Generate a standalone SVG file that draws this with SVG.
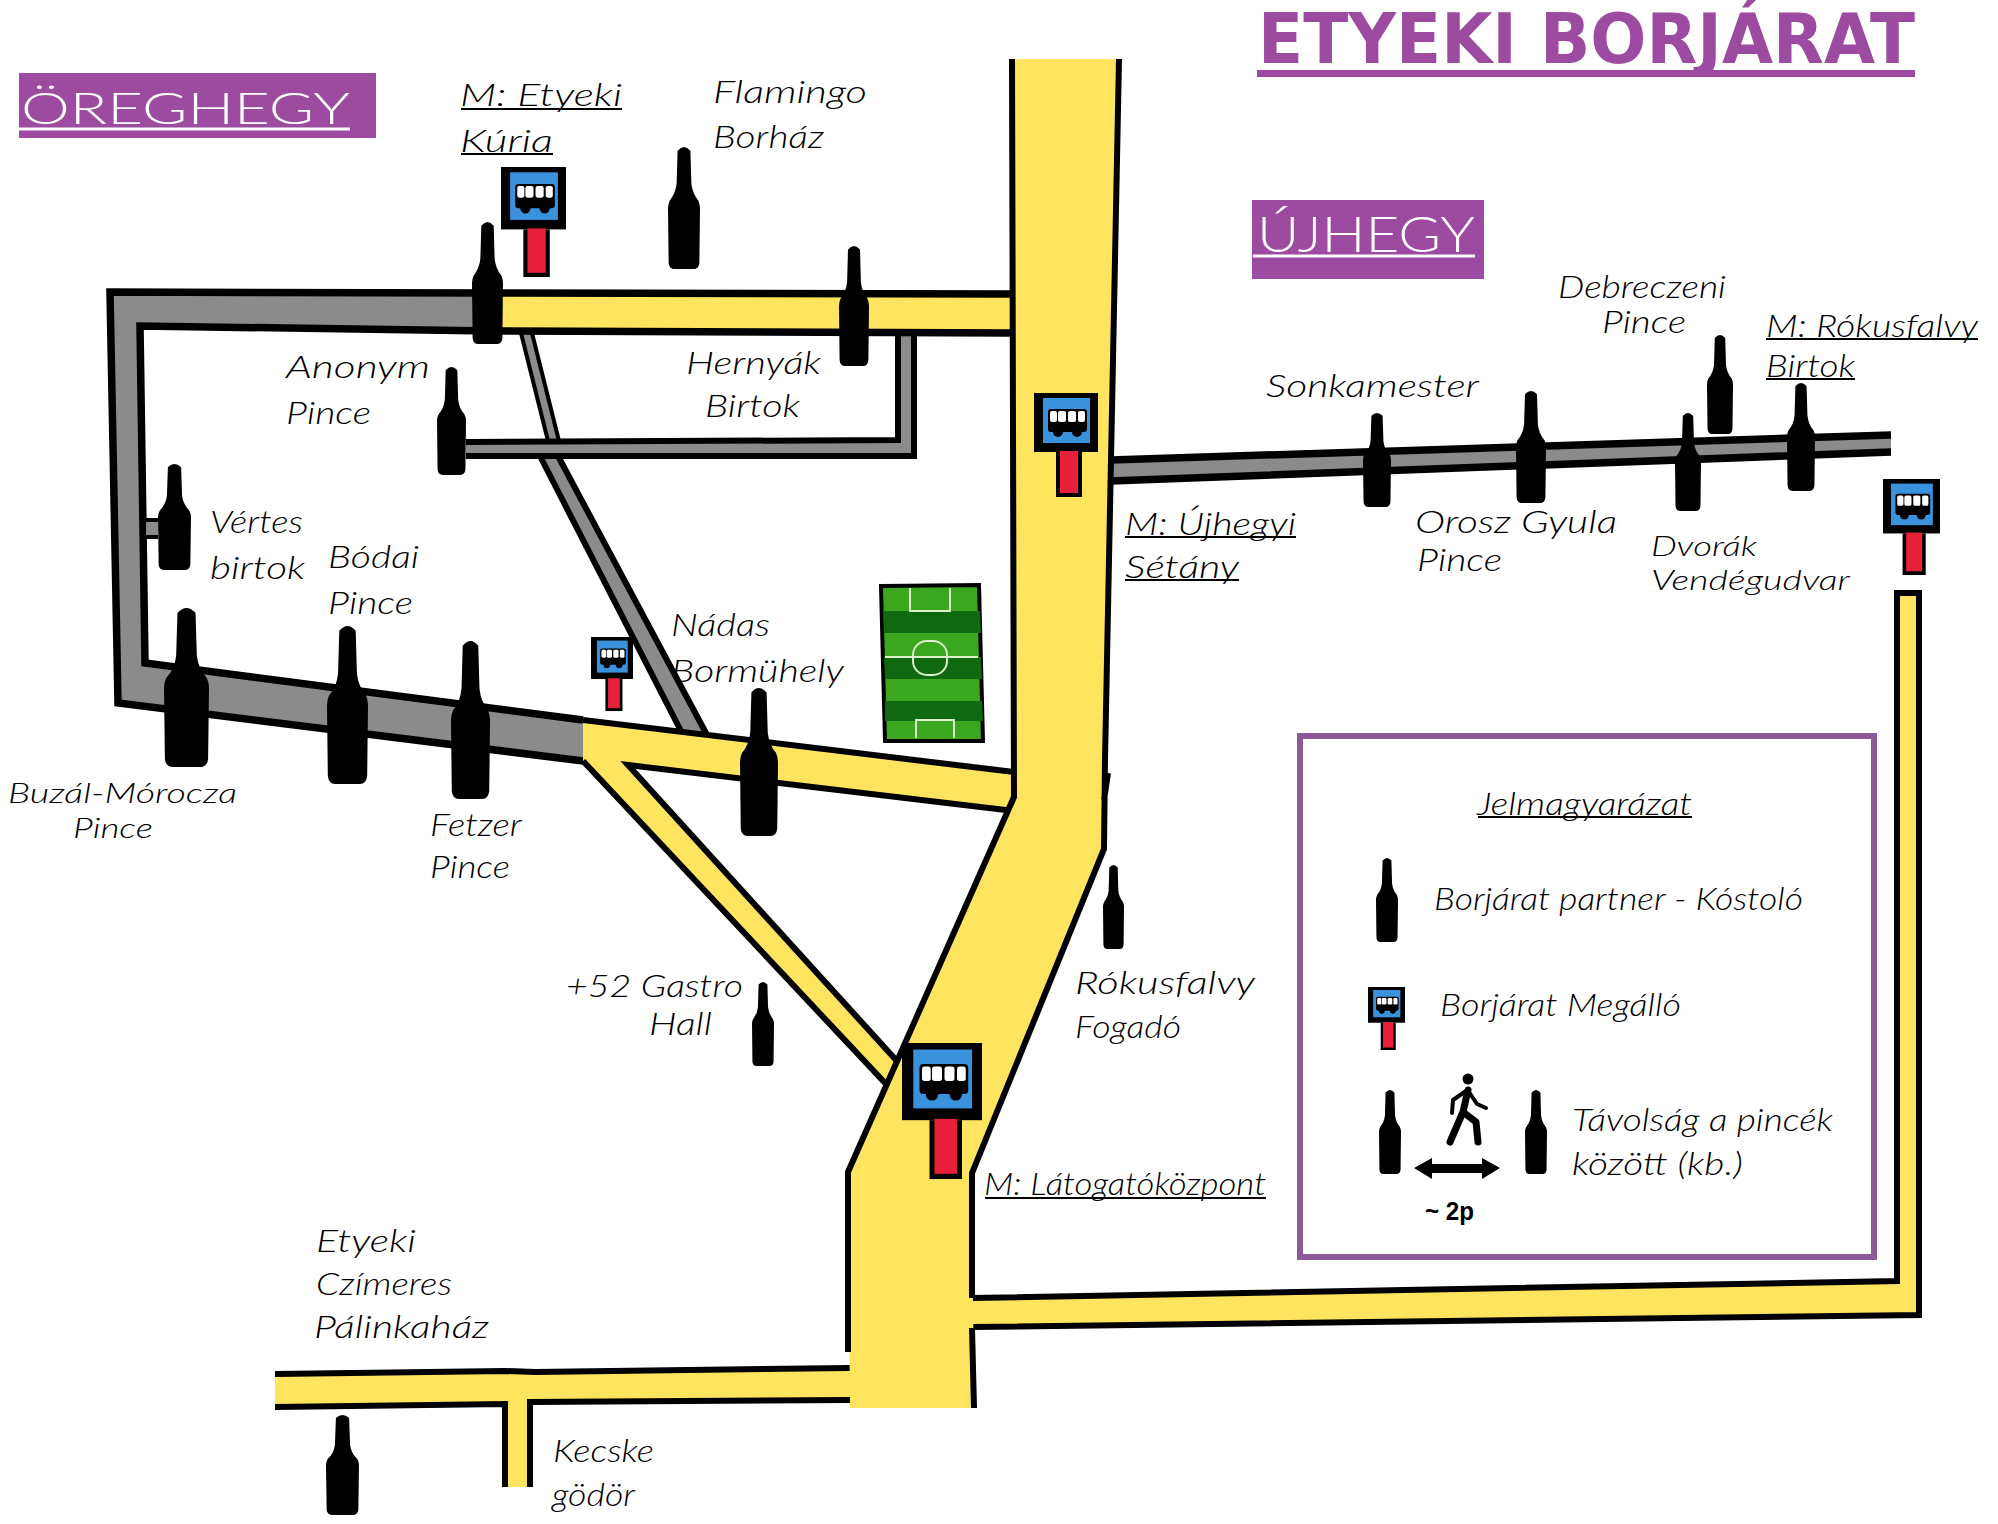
<svg xmlns="http://www.w3.org/2000/svg" width="1998" height="1524" viewBox="0 0 1998 1524">
<style>
.edge{fill:none;stroke:#000;stroke-width:6;stroke-linejoin:miter}
.w7{stroke-width:7.5}
.thin{stroke-width:4}
.y{fill:#ffe45f}
.g{fill:#8b8b8b}
.t{font-family:"Lato","Open Sans",sans-serif;font-style:italic;font-weight:300;font-size:31px;fill:#000}
.s{font-size:27px}
.u{stroke:#000;stroke-width:2;fill:none}
.h{font-family:"Lato","Open Sans",sans-serif;font-weight:300;fill:#fff}
.hu{stroke:#fff;stroke-width:3}
.pur{fill:#9c4ba0}
</style>
<defs>
<path id="bottle" d="M30 3Q50-3 70 3L73 30Q76 38 95 44Q100 47 100 50L98 95Q96 100 80 100L20 100Q4 100 2 95L0 50Q0 47 5 44Q24 38 27 30Z" fill="#000"/>
<g id="stop">
<rect width="64" height="59" fill="#000"/>
<rect x="9" y="5" width="47" height="45" fill="#3a92dc"/>
<rect x="22" y="59" width="26" height="45" fill="#000"/>
<rect x="26" y="58" width="18" height="42" fill="#e8203c"/>
<rect x="14" y="16" width="39" height="23" rx="3" fill="#000"/>
<circle cx="24" cy="39" r="5" fill="#000"/><circle cx="43" cy="39" r="5" fill="#000"/>
<rect x="16" y="18" width="7" height="11" rx="2" fill="#fff"/><rect x="24" y="18" width="8" height="11" rx="2" fill="#fff"/>
<rect x="34" y="18" width="8" height="11" rx="2" fill="#fff"/><rect x="44" y="18" width="7" height="11" rx="2" fill="#fff"/>
</g>
</defs>
<rect width="1998" height="1524" fill="#fff"/>

<g id="title">
<text x="1258" y="63" textLength="657" lengthAdjust="spacingAndGlyphs" font-family="'DejaVu Sans',sans-serif" font-weight="700" font-size="70" class="pur">ETYEKI BORJÁRAT</text>
<rect x="1257" y="70" width="658" height="7" class="pur"/>
</g>
<g id="area-oreghegy">
<rect x="19" y="73" width="357" height="65" class="pur"/>
<text x="21" y="124" textLength="329" lengthAdjust="spacingAndGlyphs" font-size="44" class="h">ÖREGHEGY</text>
<line x1="19" y1="129" x2="350" y2="129" class="hu"/>
</g>
<g id="area-ujhegy">
<rect x="1252" y="200" width="232" height="79" class="pur"/>
<text x="1257" y="252" textLength="218" lengthAdjust="spacingAndGlyphs" font-size="50" class="h">ÚJHEGY</text>
<line x1="1253" y1="256" x2="1475" y2="256" class="hu"/>
</g>

<g id="node-nadas-label">
<text class="t" x="671" y="636" textLength="99" lengthAdjust="spacingAndGlyphs">Nádas</text>
<text class="t" x="671" y="682" textLength="173" lengthAdjust="spacingAndGlyphs">Bormühely</text>
</g>

<g id="connectors">
<polygon class="g" points="521,333 532,333 559,441 548,441"/>
<path class="edge thin" d="M521 333L548 441M532 333L559 441"/>
<polygon class="g" points="540,456 558,456 707,735 683,735"/>
<path class="edge" d="M540 456L683 735M558 456L707 735"/>
<polygon class="g" points="466,442 898,440 898,334 914,334 914,456 466,456"/>
<path class="edge" d="M466 442L898 440L898 334M914 334L914 456L466 456"/>
<polygon class="g" points="110,292 491,293 491,331 140,326 145,663 583,720 583,761 118,703"/>
<path class="edge w7" d="M491 293L110 292L118 703L583 761M583 720L145 663L140 326L491 331"/>
<polygon class="y" points="491,293 1012,294 1012,333 491,331"/>
<path class="edge w7" d="M491 293L1012 294M491 331L1012 333"/>
<polygon class="y" points="583,720 1014,772 1014,811 628,765 896,1060 886,1084 583,761"/>
<path class="edge" d="M583 720L1014 772M1014 811L628 765L896 1060M583 761L886 1084"/>
<polygon class="g" points="1111,460 1891,435 1891,452 1111,481"/>
<path class="edge w7" d="M1111 460L1891 435M1111 481L1891 452"/>
<polygon class="y" points="1897,593 1919,593 1919,1315 972,1327 972,1298 1897,1281"/>
<path class="edge" d="M972 1298L1897 1281L1897 593L1919 593L1919 1315L972 1327"/>
<polygon class="y" points="275,1374 850,1368 850,1400 530,1402 530,1487 505,1487 505,1405 275,1407"/>
<path class="edge" d="M275 1374L505 1371L535 1372L850 1368M275 1407L505 1404L505 1487M530 1487L530 1402L850 1400"/>
<polygon class="y" points="1012,59 1119,59 1105,760 1104,849 972,1173 974,1408 850,1408 848,1172 1014,797"/>
<path class="edge" d="M1012 59L1014 797L848 1172L848 1352M1119 59L1105 760L1104 849L972 1173L972 1298M972 1328L974 1408M1108 773L1104 800"/>
</g>

<g id="football-field">
<polygon points="881,586 979,585 983,741 885,741" fill="#3aa71f" stroke="#000" stroke-width="4"/>
<polygon points="883,611 980,611 981,633 884,633" fill="#0f6a0f"/>
<polygon points="884,657 981,657 982,679 885,679" fill="#0f6a0f"/>
<polygon points="885,701 982,701 983,721 885,721" fill="#0f6a0f"/>
<g fill="none" stroke="#d9f2c9" stroke-width="2">
<line x1="885" y1="657" x2="978" y2="657"/>
<rect x="913" y="641" width="34" height="34" rx="14"/>
<path d="M910 588V611H950V588M916 738V720H954V738"/>
</g>
</g>

<g id="node-kuria">
<use href="#stop" transform="translate(501,167) scale(1.016,1.058)"/>
<use href="#bottle" transform="translate(472,222) scale(.31,1.22)"/>
<text class="t" x="460" y="106" textLength="162" lengthAdjust="spacingAndGlyphs">M: Etyeki</text>
<text class="t" x="460" y="152" textLength="93" lengthAdjust="spacingAndGlyphs">Kúria</text>
<path class="u" d="M461 109H622M461 154H553"/>
</g>
<g id="node-flamingo">
<use href="#bottle" transform="translate(668,147) scale(.32,1.22)"/>
<text class="t" x="713" y="103" textLength="154" lengthAdjust="spacingAndGlyphs">Flamingo</text>
<text class="t" x="713" y="148" textLength="111" lengthAdjust="spacingAndGlyphs">Borház</text>
</g>
<g id="node-hernyak">
<use href="#bottle" transform="translate(839,246) scale(.3,1.2)"/>
<text class="t" x="686" y="374" textLength="135" lengthAdjust="spacingAndGlyphs">Hernyák</text>
<text class="t" x="705" y="417" textLength="95" lengthAdjust="spacingAndGlyphs">Birtok</text>
</g>
<g id="node-anonym">
<use href="#bottle" transform="translate(437,367) scale(.29,1.08)"/>
<text class="t" x="286" y="378" textLength="144" lengthAdjust="spacingAndGlyphs">Anonym</text>
<text class="t" x="286" y="424" textLength="85" lengthAdjust="spacingAndGlyphs">Pince</text>
</g>
<g id="node-vertes">
<polygon class="g" points="146,521 158,521 158,536 146,536"/>
<path class="edge thin" d="M145 520H158M145 537H158"/>
<use href="#bottle" transform="translate(158,464) scale(.33,1.06)"/>
<text class="t" x="210" y="533" textLength="93" lengthAdjust="spacingAndGlyphs">Vértes</text>
<text class="t" x="210" y="579" textLength="95" lengthAdjust="spacingAndGlyphs">birtok</text>
</g>
<g id="node-bodai">
<use href="#bottle" transform="translate(327,626) scale(.41,1.58)"/>
<text class="t" x="328" y="568" textLength="91" lengthAdjust="spacingAndGlyphs">Bódai</text>
<text class="t" x="328" y="614" textLength="85" lengthAdjust="spacingAndGlyphs">Pince</text>
</g>
<g id="node-buzal">
<use href="#bottle" transform="translate(164,608) scale(.45,1.59)"/>
<text class="t s" x="8" y="803" textLength="229" lengthAdjust="spacingAndGlyphs">Buzál-Mórocza</text>
<text class="t s" x="73" y="838" textLength="80" lengthAdjust="spacingAndGlyphs">Pince</text>
</g>
<g id="node-fetzer">
<use href="#bottle" transform="translate(451,641) scale(.39,1.58)"/>
<text class="t" x="430" y="836" textLength="92" lengthAdjust="spacingAndGlyphs">Fetzer</text>
<text class="t" x="430" y="878" textLength="80" lengthAdjust="spacingAndGlyphs">Pince</text>
</g>
<g id="node-nadas">
<use href="#stop" transform="translate(591,637) scale(.656,.712)"/>
<use href="#bottle" transform="translate(740,688) scale(.38,1.48)"/>
</g>
<g id="node-gastro">
<use href="#bottle" transform="translate(752,982) scale(.22,.84)"/>
<text class="t" x="566" y="997" textLength="177" lengthAdjust="spacingAndGlyphs">+52 Gastro</text>
<text class="t" x="649" y="1035" textLength="63" lengthAdjust="spacingAndGlyphs">Hall</text>
</g>
<g id="node-latogatokozpont">
<use href="#stop" transform="translate(902,1043) scale(1.25,1.308)"/>
<text class="t" x="984" y="1195" textLength="282" lengthAdjust="spacingAndGlyphs">M: Látogatóközpont</text>
<path class="u" d="M985 1198H1266"/>
</g>
<g id="node-czimeres">
<use href="#bottle" transform="translate(326,1415) scale(.33,1)"/>
<text class="t" x="316" y="1252" textLength="100" lengthAdjust="spacingAndGlyphs">Etyeki</text>
<text class="t" x="316" y="1295" textLength="136" lengthAdjust="spacingAndGlyphs">Czímeres</text>
<text class="t" x="314" y="1338" textLength="175" lengthAdjust="spacingAndGlyphs">Pálinkaház</text>
</g>
<g id="node-kecske">
<text class="t" x="553" y="1462" textLength="101" lengthAdjust="spacingAndGlyphs">Kecske</text>
<text class="t" x="552" y="1506" textLength="83" lengthAdjust="spacingAndGlyphs">gödör</text>
</g>
<g id="node-rokus-fogado">
<use href="#bottle" transform="translate(1103,865) scale(.21,.84)"/>
<text class="t" x="1075" y="994" textLength="180" lengthAdjust="spacingAndGlyphs">Rókusfalvy</text>
<text class="t" x="1075" y="1038" textLength="106" lengthAdjust="spacingAndGlyphs">Fogadó</text>
</g>
<g id="node-ujhegyi">
<use href="#stop" transform="translate(1034,393)"/>
<text class="t" x="1125" y="535" textLength="171" lengthAdjust="spacingAndGlyphs">M: Újhegyi</text>
<text class="t" x="1125" y="578" textLength="114" lengthAdjust="spacingAndGlyphs">Sétány</text>
<path class="u" d="M1125 537H1296M1125 580H1239"/>
</g>
<g id="node-sonkamester">
<use href="#bottle" transform="translate(1363,413) scale(.28,.94)"/>
<text class="t" x="1266" y="397" textLength="213" lengthAdjust="spacingAndGlyphs">Sonkamester</text>
</g>
<g id="node-orosz">
<use href="#bottle" transform="translate(1516,391) scale(.3,1.12)"/>
<text class="t" x="1415" y="533" textLength="202" lengthAdjust="spacingAndGlyphs">Orosz Gyula</text>
<text class="t" x="1417" y="571" textLength="85" lengthAdjust="spacingAndGlyphs">Pince</text>
</g>
<g id="node-dvorak">
<use href="#bottle" transform="translate(1675,413) scale(.26,.98)"/>
<text class="t s" x="1651" y="556" textLength="106" lengthAdjust="spacingAndGlyphs">Dvorák</text>
<text class="t s" x="1651" y="590" textLength="199" lengthAdjust="spacingAndGlyphs">Vendégudvar</text>
</g>
<g id="node-debreczeni">
<use href="#bottle" transform="translate(1707,335) scale(.26,.99)"/>
<text class="t" x="1558" y="298" textLength="168" lengthAdjust="spacingAndGlyphs">Debreczeni</text>
<text class="t" x="1602" y="333" textLength="84" lengthAdjust="spacingAndGlyphs">Pince</text>
</g>
<g id="node-rokusfalvy">
<use href="#bottle" transform="translate(1787,383) scale(.28,1.08)"/>
<use href="#stop" transform="translate(1883,479) scale(.89,.923)"/>
<text class="t" x="1766" y="337" textLength="212" lengthAdjust="spacingAndGlyphs">M: Rókusfalvy</text>
<text class="t" x="1766" y="377" textLength="89" lengthAdjust="spacingAndGlyphs">Birtok</text>
<path class="u" d="M1766 339H1978M1766 379H1855"/>
</g>

<g id="legend">
<rect x="1300" y="736" width="574" height="521" fill="none" stroke="#8b5a97" stroke-width="6"/>
<text class="t" x="1477" y="815" textLength="215" lengthAdjust="spacingAndGlyphs">Jelmagyarázat</text>
<path class="u" d="M1478 817H1692"/>
<use href="#bottle" transform="translate(1376,858) scale(.22,.84)"/>
<text class="t" x="1434" y="910" textLength="369" lengthAdjust="spacingAndGlyphs">Borjárat partner - Kóstoló</text>
<use href="#stop" transform="translate(1368,987) scale(.578,.606)"/>
<text class="t" x="1440" y="1016" textLength="241" lengthAdjust="spacingAndGlyphs">Borjárat Megálló</text>
<use href="#bottle" transform="translate(1379,1090) scale(.22,.84)"/>
<use href="#bottle" transform="translate(1525,1090) scale(.22,.84)"/>
<g id="walker" fill="none" stroke="#000" stroke-width="6" stroke-linecap="round" stroke-linejoin="round">
<circle cx="1468" cy="1079" r="5.5" fill="#000" stroke="none"/>
<path d="M1468 1090L1463 1112L1450 1142M1463 1112L1476 1122L1478 1142" stroke-width="7"/>
<path d="M1466 1091L1453 1100L1452 1113M1469 1092L1477 1104L1486 1108" stroke-width="4"/>
</g>
<path d="M1414 1168L1432 1158V1164H1482V1158L1500 1168L1482 1179V1173H1432V1179Z" fill="#000"/>
<text x="1425" y="1220" textLength="49" lengthAdjust="spacingAndGlyphs" font-family="'Liberation Sans',sans-serif" font-weight="700" font-size="25">~ 2p</text>
<text class="t" x="1572" y="1131" textLength="261" lengthAdjust="spacingAndGlyphs">Távolság a pincék</text>
<text class="t" x="1572" y="1175" textLength="171" lengthAdjust="spacingAndGlyphs">között (kb.)</text>
</g>
</svg>
